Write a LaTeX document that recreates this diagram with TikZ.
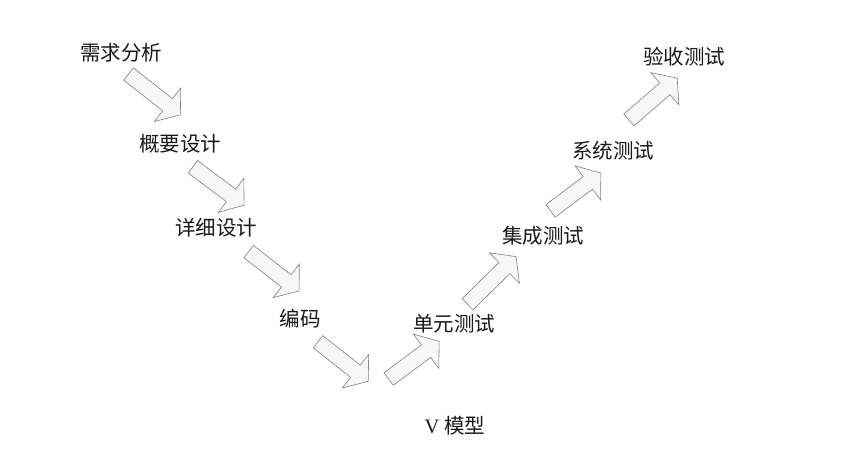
\documentclass[tikz,border=0pt]{standalone}
\usepackage{fontspec}
\setmainfont{Liberation Serif}
\newfontfamily\cjk{Noto Sans CJK SC}
\usetikzlibrary{shapes.arrows}
\begin{document}
\begin{tikzpicture}[x=1pt,y=-1pt,
  lbl/.style={font=\cjk\fontsize{20.5}{24}\selectfont, text=black!90, inner sep=0pt},
  blockarrow/.style={single arrow, draw=black!50, fill=black!3, line width=0.6pt,
    minimum height=#1, inner xsep=0pt, inner ysep=7.5pt, single arrow head extend=13.5pt,
    single arrow tip angle=105}]
\useasboundingbox[fill=white] (0,0) rectangle (847,470);

% labels
\node[lbl] (req)  at (121,52.5) {需求分析};
\node[lbl] (hld)  at (180,144) {概要设计};
\node[lbl] (dd)   at (216,228) {详细设计};
\node[lbl] (code) at (300,318.5) {编码};
\node[lbl] (ut)   at (454,324) {单元测试};
\node[lbl] (it)   at (543,236) {集成测试};
\node[lbl] (st)   at (613,151) {系统测试};
\node[lbl] (at)   at (684,57) {验收测试};
\node[inner sep=0pt, font=\fontsize{20.5}{24}\selectfont, text=black!90] (title) at (455,426) {V {\cjk 模型}};

% block arrows
\node[blockarrow=66pt, rotate=-38.2] (a1) at (152.1,92.6) {};
\node[blockarrow=64pt, rotate=-36.8] (a2) at (216.1,184.2) {};
\node[blockarrow=64pt, rotate=-37.9] (a3) at (271.5,269.4) {};
\node[blockarrow=64pt, rotate=-38.2] (a4) at (340.8,359.7) {};
\node[blockarrow=63pt, rotate=36.6]  (a5) at (411.5,362) {};
\node[blockarrow=68pt, rotate=44.5]  (a6) at (489.7,282.5) {};
\node[blockarrow=63pt, rotate=36.9]  (a7) at (573.3,193.8) {};
\node[blockarrow=64pt, rotate=41]    (a8) at (650.8,101) {};
\end{tikzpicture}
\end{document}
